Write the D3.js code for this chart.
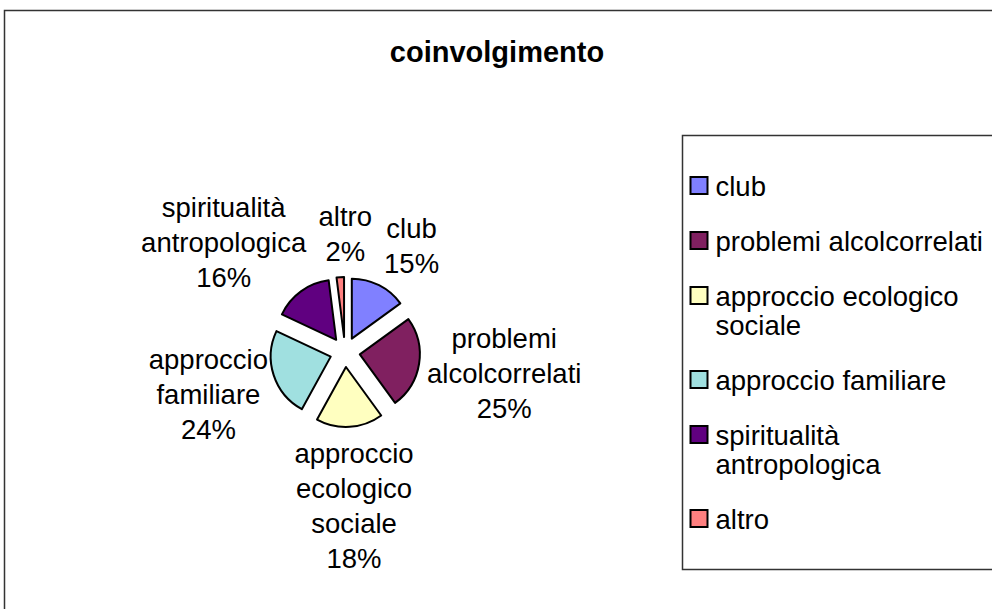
<!DOCTYPE html>
<html>
<head>
<meta charset="utf-8">
<script src="https://cdn.jsdelivr.net/npm/d3@7/dist/d3.min.js"></script>
<style>
  body { margin: 0; background: #fff; }
  svg text { font-family: "Liberation Sans", Arial, sans-serif; fill: #000; }
</style>
</head>
<body>
<svg width="992" height="609"></svg>
<script>
// dati
var categories = ["club", "problemi alcolcorrelati", "approccio ecologico sociale",
                  "approccio familiare", "spiritualità antropologica", "altro"];
var values = [15, 25, 18, 24, 16, 2];
var colors = ["#8080ff", "#802060", "#ffffc0", "#a0e0e0", "#600080", "#ff8080"];
// righe delle etichette sulla torta e nella legenda
var labelLines = [["club"], ["problemi", "alcolcorrelati"], ["approccio", "ecologico", "sociale"],
                  ["approccio", "familiare"], ["spiritualità", "antropologica"], ["altro"]];
var legendLines = [["club"], ["problemi alcolcorrelati"], ["approccio ecologico", "sociale"],
                   ["approccio familiare"], ["spiritualità", "antropologica"], ["altro"]];
var title = "coinvolgimento";

var svg = d3.select("svg");

// cornice del grafico
svg.append("rect")
  .attr("x", 4.5).attr("y", 10.5)
  .attr("width", 1000).attr("height", 700)
  .attr("fill", "#fff").attr("stroke", "#333").attr("stroke-width", 1.5);

// titolo
svg.append("text")
  .attr("x", 497).attr("y", 62)
  .attr("text-anchor", "middle")
  .attr("font-size", "29px").attr("font-weight", "bold")
  .text(title);

// torta
var cx = 345, cy = 352, radius = 60, explode = 15, labelRadius = 84;
var total = d3.sum(values);
var pie = d3.pie().sort(null).value(function(d) { return d; });
var arc = d3.arc().innerRadius(0).outerRadius(radius);
var arcs = pie(values);

var g = svg.append("g").attr("transform", "translate(" + cx + "," + cy + ")");

function mid(d) { return (d.startAngle + d.endAngle) / 2; }

g.selectAll(".slice")
  .data(arcs)
  .enter().append("path")
  .attr("class", "slice")
  .attr("d", arc)
  .attr("transform", function(d) {
    var a = mid(d);
    return "translate(" + (Math.sin(a) * explode) + "," + (-Math.cos(a) * explode) + ")";
  })
  .attr("fill", function(d, i) { return colors[i]; })
  .attr("stroke", "#000").attr("stroke-width", 2)
  .attr("stroke-linejoin", "round");

// etichette: nome + percentuale, fuori dalla fetta
var lh = 35;
var boxes = [];
var labels = g.selectAll(".lbl")
  .data(arcs)
  .enter().append("text")
  .attr("class", "lbl")
  .attr("text-anchor", "middle")
  .attr("font-size", "27.5px");

labels.each(function(d, i) {
  var t = d3.select(this);
  var lines = labelLines[i].concat([Math.round(values[i] / total * 100) + "%"]);
  lines.forEach(function(s, k) {
    t.append("tspan").attr("x", 0).attr("dy", k === 0 ? 0 : lh).text(s);
  });
  var w = this.getBBox().width, h = lines.length * lh;
  var a = mid(d);
  boxes.push({
    x: Math.sin(a) * (labelRadius + w / 2),
    y: -Math.cos(a) * (labelRadius + h / 2),
    w: w, h: h
  });
});

// le etichette che si sovrappongono vengono spostate in orizzontale
var pad = 12;
for (var it = 0; it < 60; it++) {
  for (var p = 0; p < boxes.length; p++) {
    for (var q = p + 1; q < boxes.length; q++) {
      var A = boxes[p], B = boxes[q];
      var oy = (A.h + B.h) / 2 - Math.abs(A.y - B.y);
      var ox = (A.w + B.w) / 2 + pad - Math.abs(A.x - B.x);
      if (oy > 0 && ox > 0) {
        var s = A.x < B.x ? -1 : 1;
        A.x += s * ox / 4;
        B.x -= s * ox / 4;
      }
    }
  }
}

labels.attr("transform", function(d, i) {
  var b = boxes[i];
  return "translate(" + b.x + "," + (b.y - b.h / 2 + lh / 2 + 10) + ")";
});

// legenda
var lgX = 682.5, lgY = 135.5, lgW = 400, lgH = 434;
svg.append("rect")
  .attr("x", lgX).attr("y", lgY).attr("width", lgW).attr("height", lgH)
  .attr("fill", "#fff").attr("stroke", "#333").attr("stroke-width", 1.5);

// voci con spazio uguale fra loro, blocco centrato nel riquadro
var llh = 29, gap = 26;
var nLines = d3.sum(legendLines, function(l) { return l.length; });
var blockH = nLines * llh + (legendLines.length - 1) * gap;
var yTop = lgY + (lgH - blockH) / 2;
var tops = [];
legendLines.forEach(function(l) { tops.push(yTop); yTop += l.length * llh + gap; });

var item = svg.selectAll(".lg")
  .data(categories)
  .enter().append("g")
  .attr("class", "lg")
  .attr("transform", function(d, i) {
    return "translate(" + (lgX + 8) + "," + (tops[i] + llh / 2) + ")";
  });

item.append("rect")
  .attr("x", 0).attr("y", -9).attr("width", 17).attr("height", 17)
  .attr("fill", function(d, i) { return colors[i]; })
  .attr("stroke", "#000").attr("stroke-width", 2);

item.append("text")
  .attr("font-size", "27.5px")
  .each(function(d, i) {
    var t = d3.select(this);
    legendLines[i].forEach(function(s, k) {
      t.append("tspan").attr("x", 25).attr("y", 10 + k * llh).text(s);
    });
  });
</script>
</body>
</html>
